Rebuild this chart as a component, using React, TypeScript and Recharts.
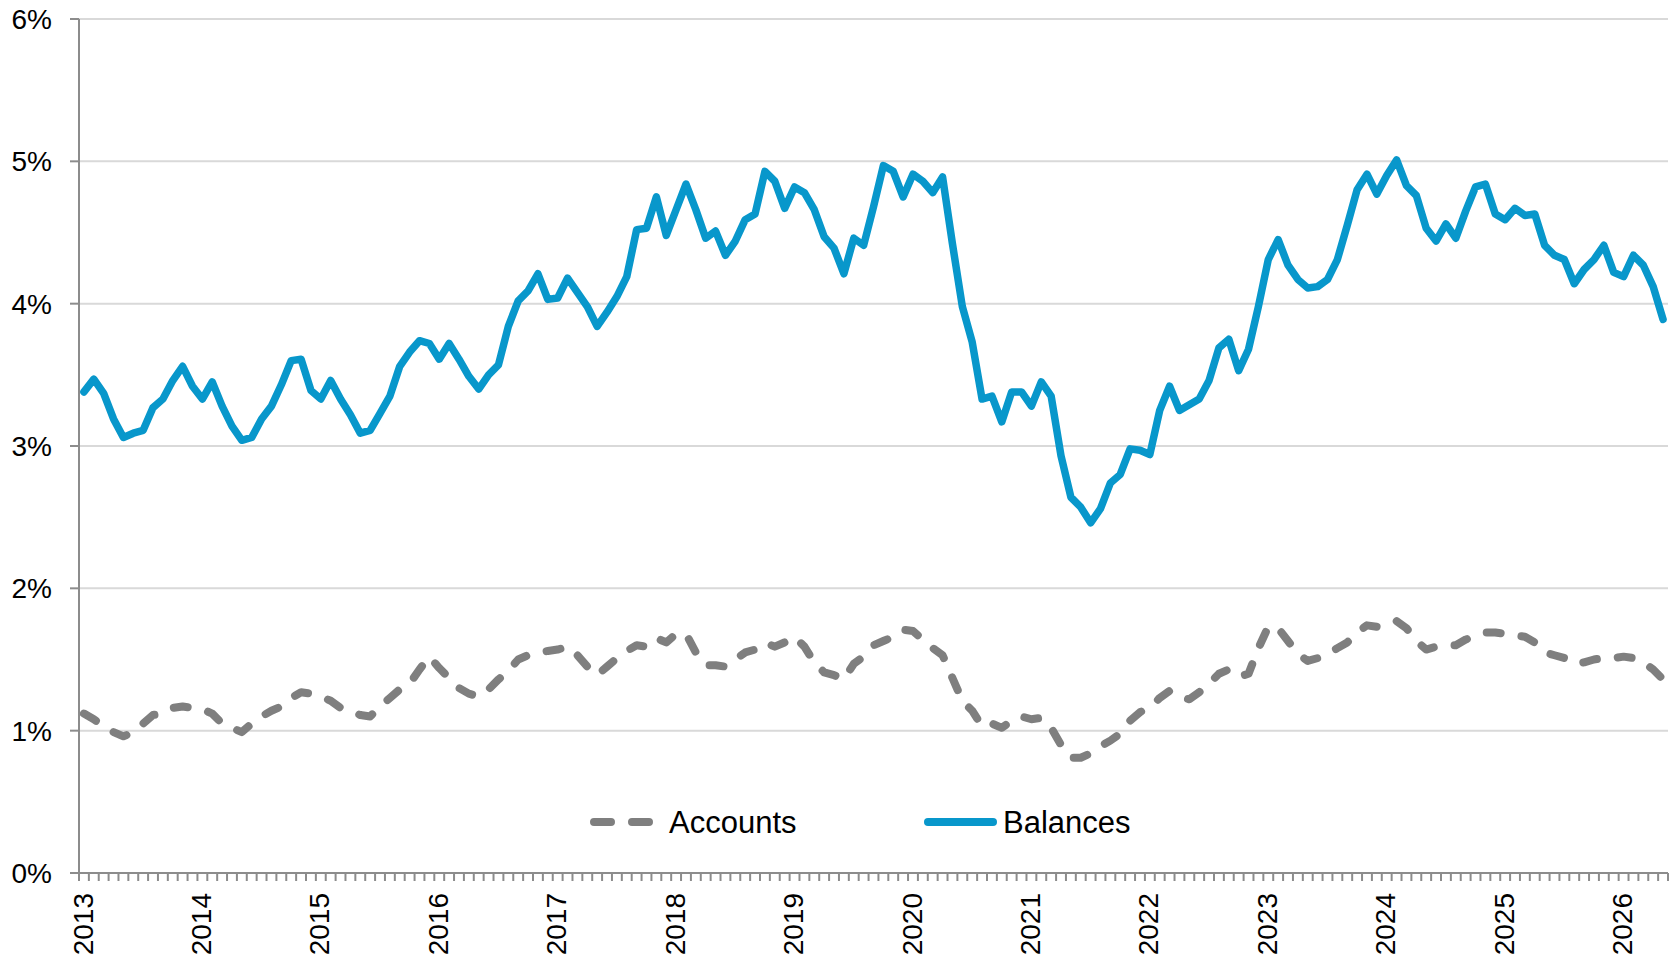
import { LineChart, Line, XAxis, YAxis, CartesianGrid, Legend } from 'recharts'

// monthly series, Jan 2013 .. May 2026 (%)
const balances = [
	3.38, 3.47, 3.37, 3.19, 3.06, 3.09, 3.11, 3.27, 3.33, 3.46,
	3.56, 3.42, 3.33, 3.45, 3.28, 3.14, 3.04, 3.06, 3.19, 3.28,
	3.43, 3.6, 3.61, 3.39, 3.33, 3.46, 3.33, 3.22, 3.09, 3.11,
	3.23, 3.35, 3.56, 3.66, 3.74, 3.72, 3.61, 3.72, 3.61, 3.49,
	3.4, 3.5, 3.57, 3.84, 4.02, 4.09, 4.21, 4.03, 4.04, 4.18,
	4.08, 3.98, 3.84, 3.94, 4.05, 4.19, 4.52, 4.53, 4.75, 4.48,
	4.66, 4.84, 4.66, 4.46, 4.51, 4.34, 4.44, 4.59, 4.63, 4.93,
	4.86, 4.67, 4.82, 4.78, 4.66, 4.47, 4.39, 4.21, 4.46, 4.41,
	4.68, 4.97, 4.93, 4.75, 4.91, 4.86, 4.78, 4.89, 4.42, 3.98,
	3.73, 3.33, 3.35, 3.17, 3.38, 3.38, 3.28, 3.45, 3.35, 2.93,
	2.64, 2.57, 2.46, 2.56, 2.74, 2.8, 2.98, 2.97, 2.94, 3.25,
	3.42, 3.25, 3.29, 3.33, 3.46, 3.69, 3.75, 3.53, 3.68, 3.98,
	4.31, 4.45, 4.27, 4.17, 4.11, 4.12, 4.17, 4.31, 4.55, 4.8,
	4.91, 4.77, 4.9, 5.01, 4.83, 4.76, 4.53, 4.44, 4.56, 4.46,
	4.65, 4.82, 4.84, 4.63, 4.59, 4.67, 4.62, 4.63, 4.41, 4.34,
	4.31, 4.14, 4.24, 4.31, 4.41, 4.22, 4.19, 4.34, 4.27, 4.12,
	3.89,
]

const accounts = [
	1.12, 1.08, 1.03, 0.99, 0.96, 0.99, 1.05, 1.11, 1.12, 1.16,
	1.17, 1.16, 1.15, 1.12, 1.05, 1.02, 0.99, 1.05, 1.1, 1.14,
	1.17, 1.23, 1.27, 1.26, 1.24, 1.21, 1.16, 1.14, 1.11, 1.1,
	1.17, 1.23, 1.29, 1.33, 1.43, 1.52, 1.44, 1.37, 1.3, 1.26,
	1.24, 1.29, 1.36, 1.42, 1.5, 1.53, 1.55, 1.56, 1.57, 1.59,
	1.53, 1.45, 1.39, 1.45, 1.51, 1.56, 1.6, 1.59, 1.65, 1.62,
	1.68, 1.68, 1.55, 1.46, 1.46, 1.45, 1.5, 1.55, 1.57, 1.62,
	1.59, 1.62, 1.66, 1.59, 1.48, 1.41, 1.39, 1.36, 1.47, 1.52,
	1.6, 1.63, 1.66, 1.71, 1.7, 1.64, 1.58, 1.53, 1.37, 1.21,
	1.14, 1.03, 1.05, 1.02, 1.07, 1.1, 1.08, 1.09, 1.02, 0.9,
	0.81, 0.81, 0.84, 0.89, 0.93, 0.98, 1.07, 1.13, 1.16, 1.23,
	1.28, 1.24, 1.22, 1.27, 1.33, 1.4, 1.43, 1.38, 1.4, 1.58,
	1.73, 1.72, 1.63, 1.54, 1.49, 1.51, 1.54, 1.58, 1.62, 1.69,
	1.74, 1.73, 1.75, 1.77, 1.72, 1.63, 1.57, 1.59, 1.6, 1.6,
	1.64, 1.67, 1.69, 1.69, 1.68, 1.67, 1.66, 1.62, 1.55, 1.53,
	1.51, 1.47, 1.48, 1.5, 1.51, 1.51, 1.52, 1.51, 1.48, 1.43,
	1.36,
]

const years = [
	'2013', '2014', '2015', '2016', '2017', '2018', '2019',
	'2020', '2021', '2022', '2023', '2024', '2025', '2026',
]

const yTicks = [0, 1, 2, 3, 4, 5, 6]

// one tick per month boundary
const monthTicks = Array.from({ length: balances.length + 1 }, (_, i) => i)

// points sit in the middle of their month
const data = balances.map((b, i) => ({
	t: i + 0.5,
	accounts: accounts[i],
	balances: b,
}))

const FONT = '"Liberation Sans", Arial, sans-serif'
const BLUE = '#0897cb'
const GREY = '#7f7f7f'
const AXIS = '#8c8c8c'

const YearTick = (props: any) => {
	const { x, y, payload } = props
	const v = payload.value
	if (v % 12 !== 0) return <g />
	const tx = x + 4
	const ty = y + 12
	return (
		<text
			x={tx}
			y={ty}
			transform={`rotate(-90 ${tx} ${ty})`}
			textAnchor="end"
			dominantBaseline="central"
			fontSize={28}
			fontFamily={FONT}
			fill="#000"
		>
			{years[v / 12]}
		</text>
	)
}

const renderLegend = () => (
	<svg width={1673} height={60}>
		<line
			x1={594}
			y1={30}
			x2={649}
			y2={30}
			stroke={GREY}
			strokeWidth={8}
			strokeDasharray="17 21"
			strokeLinecap="round"
		/>
		<text x={669} y={30} dominantBaseline="central" fontSize={31} fontFamily={FONT} fill="#000">
			Accounts
		</text>
		<line x1={928} y1={30} x2={993} y2={30} stroke={BLUE} strokeWidth={8} strokeLinecap="round" />
		<text x={1003} y={30} dominantBaseline="central" fontSize={31} fontFamily={FONT} fill="#000">
			Balances
		</text>
	</svg>
)

export default function App() {
	return (
		<div style={{ position: 'absolute', left: 0, top: 0 }}>
			<LineChart
				width={1673}
				height={957}
				data={data}
				margin={{ top: 19, right: 5, left: 8, bottom: 4 }}
			>
				<CartesianGrid vertical={false} stroke="#d9d9d9" strokeWidth={2} />
				<XAxis
					type="number"
					dataKey="t"
					domain={[0, balances.length]}
					ticks={monthTicks}
					interval={0}
					tickSize={8}
					tickMargin={0}
					height={80}
					axisLine={{ stroke: AXIS, strokeWidth: 2 }}
					tickLine={{ stroke: AXIS, strokeWidth: 2 }}
					tick={<YearTick />}
				/>
				<YAxis
					type="number"
					domain={[0, 6]}
					ticks={yTicks}
					interval={0}
					width={71}
					tickSize={9}
					tickMargin={18}
					tickFormatter={(v) => `${v}%`}
					axisLine={{ stroke: AXIS, strokeWidth: 2 }}
					tickLine={{ stroke: AXIS, strokeWidth: 2 }}
					tick={{ fill: '#000', fontSize: 28, fontFamily: FONT }}
				/>
				<Legend
					verticalAlign="middle"
					content={renderLegend}
					wrapperStyle={{ left: 0, top: 792, width: 1673, height: 60 }}
				/>
				<Line
					type="linear"
					dataKey="accounts"
					name="Accounts"
					stroke={GREY}
					strokeWidth={8}
					strokeDasharray="14 21"
					strokeLinecap="round"
					strokeLinejoin="round"
					dot={false}
					activeDot={false}
					isAnimationActive={false}
				/>
				<Line
					type="linear"
					dataKey="balances"
					name="Balances"
					stroke={BLUE}
					strokeWidth={7.5}
					strokeLinecap="round"
					strokeLinejoin="round"
					dot={false}
					activeDot={false}
					isAnimationActive={false}
				/>
			</LineChart>
		</div>
	)
}
